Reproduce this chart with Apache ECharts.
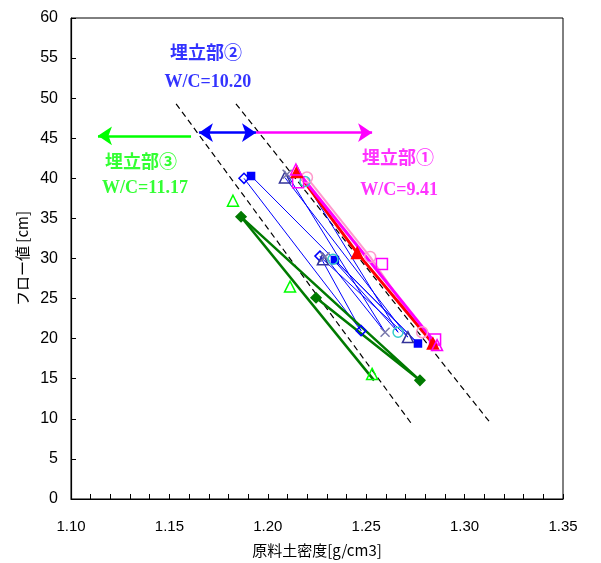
<!DOCTYPE html>
<html>
<head>
<meta charset="utf-8">
<script src="https://cdn.jsdelivr.net/npm/echarts@6/dist/echarts.min.js"></script>
<style>
  html, body { margin: 0; padding: 0; background: #fff; }
  #chart { width: 601px; height: 563px; }
</style>
</head>
<body>
<div id="chart"></div>
<script>
// Raw-soil density [g/cm3] (x) against flow value [cm] (y)

// Zone ② samples, points in measurement order
const blueSquare    = [[1.1915, 40.3], [1.2763, 19.4], [1.2341, 29.8]];
const blueDiamond   = [[1.1879, 40.0], [1.2474, 21.0], [1.2265, 30.3]];
const navyTriangle  = [[1.2087, 40.1], [1.2712, 20.2], [1.2280, 29.9]];
const slateCross    = [[1.2098, 40.5], [1.2596, 20.8], [1.2291, 30.2]];
const cyanCircle    = [[1.2189, 39.6], [1.2662, 20.8], [1.2331, 29.9]];

// Zone ① samples
const redTriangle   = [[1.2148, 40.8], [1.2454, 30.7], [1.2839, 19.4]];
const magentaLine   = [[1.2143, 41.1], [1.2860, 19.2]];
const pinkCircle    = [[1.2199, 40.1], [1.2520, 30.2], [1.2784, 20.8]];
const magentaSquare = [[1.2154, 39.5], [1.2580, 29.3], [1.2850, 19.9]];

// Zone ③ samples
const greenDiamond  = [[1.1864, 35.2], [1.2773, 14.8], [1.2245, 25.1]];
const greenTrend    = [[1.1864, 35.2], [1.2540, 14.8]];
const limeTriangle  = [[1.1823, 37.2], [1.2113, 26.5], [1.2530, 15.6]];

// Zone boundaries (dashed)
const boundaryLeft  = [[1.1534, 49.3], [1.2733, 9.3]];
const boundaryRight = [[1.1838, 49.3], [1.3124, 9.7]];

// Zone range arrows
const arrowZone3 = [[1.1610, 45.3], [1.1137, 45.3]];
const arrowZone2 = [[1.1650, 45.7], [1.1940, 45.7]];
const arrowZone1 = [[1.1940, 45.7], [1.2530, 45.7]];

// Zone captions and where they sit (data coordinates)
const zoneNames     = ['埋立部①', '埋立部②', '埋立部③'];
const zoneRatios    = ['W/C=9.41', 'W/C=10.20', 'W/C=11.17'];
const namePositions = [[1.2662, 42.6], [1.1686, 55.8], [1.1356, 42.1]];
const ratioPositions= [[1.2667, 38.5], [1.1696, 52.0], [1.1376, 38.7]];
const zoneColors    = ['#FF00FF', '#0000FF', '#00FF00'];

const chart = echarts.init(document.getElementById('chart'), null, { renderer: 'canvas' });

const crossPath = 'path://M0,0L10,10M10,0L0,10';

function sampleSeries(data, symbol, size, fill, stroke, lineColor, lineWidth) {
  return {
    type: 'line',
    data: data,
    symbol: symbol,
    symbolSize: size,
    itemStyle: { color: fill, borderColor: stroke, borderWidth: 1.5 },
    lineStyle: { color: lineColor, width: lineWidth, opacity: lineColor === 'none' ? 0 : 1 },
    silent: true,
    z: 3
  };
}

function arrowSeries(data, color, symbols) {
  return {
    type: 'line',
    data: [],
    silent: true,
    markLine: {
      silent: true,
      symbol: symbols,
      symbolSize: 14,
      label: { show: false },
      lineStyle: { color: color, width: 2.5, type: 'solid' },
      emphasis: { disabled: true },
      data: [[{ coord: data[0] }, { coord: data[1] }]]
    }
  };
}

function captionSeries(texts, positions, fontFamily, fontSize) {
  return {
    type: 'scatter',
    symbolSize: 0,
    silent: true,
    z: 5,
    data: texts.map((t, i) => ({
      value: positions[i],
      label: {
        show: true,
        position: 'inside',
        formatter: t,
        color: zoneColors[i],
        fontFamily: fontFamily,
        fontWeight: 'bold',
        fontSize: fontSize
      }
    }))
  };
}

const option = {
  animation: false,
  backgroundColor: '#fff',
  grid: {
    left: 71, right: 38, top: 18, bottom: 63,
    containLabel: false,
    show: true, borderColor: '#000', borderWidth: 1, backgroundColor: 'transparent'
  },
  xAxis: {
    type: 'value',
    min: 1.10, max: 1.35, interval: 0.01,
    name: '原料土密度[g/cm3]',
    nameLocation: 'middle',
    nameGap: 44,
    nameTextStyle: { fontFamily: 'Noto Sans CJK JP', fontSize: 15, color: '#000' },
    axisLine: { lineStyle: { color: '#000', width: 1.2 } },
    axisTick: { inside: true, length: 5, lineStyle: { color: '#000' } },
    axisLabel: {
      margin: 20,
      fontFamily: 'Liberation Sans', fontSize: 15, color: '#000',
      formatter: v => (Math.round(v * 100) % 5 === 0 ? v.toFixed(2) : '')
    },
    splitLine: { show: false }
  },
  yAxis: {
    type: 'value',
    min: 0, max: 60, interval: 5,
    name: 'フロー値 [cm]',
    nameLocation: 'middle',
    nameGap: 41,
    nameTextStyle: { fontFamily: 'Noto Sans CJK JP', fontSize: 15, color: '#000' },
    axisLine: { lineStyle: { color: '#000', width: 1.2 } },
    axisTick: { inside: true, length: 5, lineStyle: { color: '#000' } },
    axisLabel: { margin: 13, fontFamily: 'Liberation Sans', fontSize: 16, color: '#000' },
    splitLine: { show: false }
  },
  series: [
    // zone boundaries
    { type: 'line', data: boundaryLeft, symbol: 'none', silent: true, z: 2,
      lineStyle: { color: '#000', width: 1.2, type: [6, 4] } },
    { type: 'line', data: boundaryRight, symbol: 'none', silent: true, z: 2,
      lineStyle: { color: '#000', width: 1.2, type: [6, 4] } },

    // zone ②
    sampleSeries(blueDiamond, 'diamond', 10, 'rgba(0,0,0,0)', '#0000FF', '#0000FF', 1),
    sampleSeries(blueSquare, 'rect', 7, '#0000FF', '#0000FF', '#0000FF', 1),
    sampleSeries(navyTriangle, 'triangle', 11, 'rgba(0,0,0,0)', '#333399', '#0000FF', 1),
    sampleSeries(slateCross, crossPath, 9, 'rgba(0,0,0,0)', '#7777AA', '#0000FF', 1),
    sampleSeries(cyanCircle, 'circle', 10, 'rgba(0,0,0,0)', '#33CCCC', '#0000FF', 1),

    // zone ③
    sampleSeries(limeTriangle, 'triangle', 11, 'rgba(0,0,0,0)', '#00FF00', 'none', 0),
    { type: 'line', data: greenTrend, symbol: 'none', silent: true, z: 3,
      lineStyle: { color: '#007A00', width: 2.5 } },
    sampleSeries(greenDiamond, 'diamond', 10, '#007A00', '#007A00', '#007A00', 2.5),

    // zone ①
    sampleSeries(pinkCircle, 'circle', 11, 'rgba(0,0,0,0)', '#FF99CC', '#FF99CC', 2),
    sampleSeries(magentaSquare, 'rect', 11, 'rgba(0,0,0,0)', '#FF00FF', 'none', 0),
    sampleSeries(redTriangle, 'triangle', 11, '#FF0000', '#FF0000', '#FF0000', 3),
    sampleSeries(magentaLine, 'triangle', 11, 'rgba(0,0,0,0)', '#FF00FF', '#FF00FF', 3),

    // range arrows
    arrowSeries(arrowZone3, '#00FF00', ['none', 'arrow']),
    arrowSeries(arrowZone2, '#0000FF', ['arrow', 'arrow']),
    arrowSeries(arrowZone1, '#FF00FF', ['none', 'arrow']),

    // captions
    captionSeries(zoneNames, namePositions, 'Noto Sans CJK JP', 18),
    captionSeries(zoneRatios, ratioPositions, 'Liberation Serif', 18)
  ]
};

chart.setOption(option);
</script>
</body>
</html>
